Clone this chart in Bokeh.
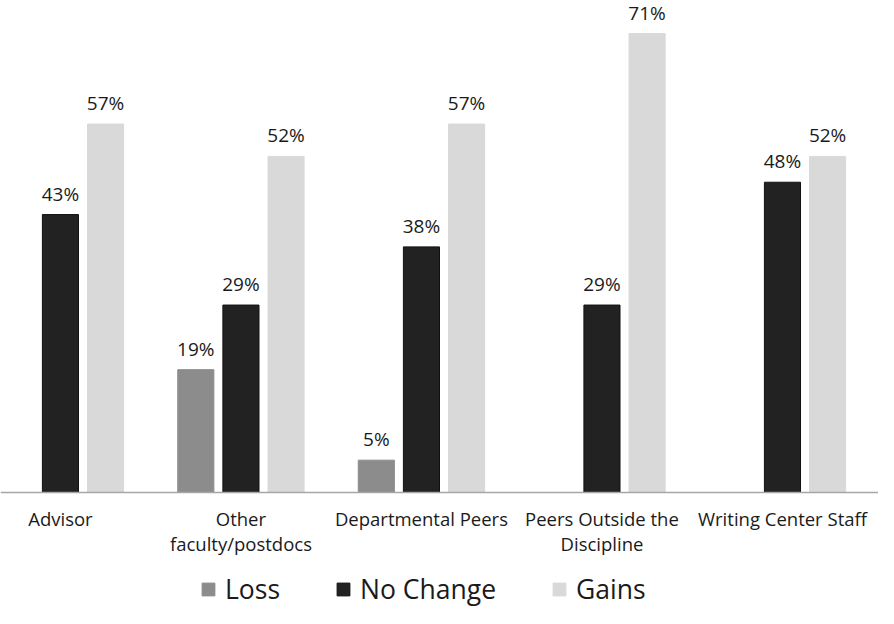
import numpy as np
from bokeh.plotting import figure
from bokeh.models import Range1d, Span, ColumnDataSource
from bokeh.core.properties import value
from bokeh.embed import file_html
from bokeh.resources import INLINE

categories = ["Advisor", "Other\nfaculty/postdocs", "Departmental Peers",
              "Peers Outside the\nDiscipline", "Writing Center Staff"]
loss = [np.nan, 19, 5, np.nan, np.nan]
no_change = [43, 29, 38, 29, 48]
gains = [57, 52, 57, 71, 52]

series = [("Loss", loss, "#8c8c8c", -0.25),
          ("No Change", no_change, "#222222", 0.0),
          ("Gains", gains, "#d9d9d9", 0.25)]

FONT = "Open Sans"

p = figure(width=878, height=608, x_range=Range1d(-0.332, 4.532),
           y_range=Range1d(-17.95, 76.12), output_backend="svg",
           toolbar_location=None, min_border=0)
p.outline_line_color = None
p.axis.visible = False
p.xgrid.grid_line_color = None
p.ygrid.grid_line_color = None
p.background_fill_color = "white"
p.border_fill_color = "white"

idx = np.arange(len(categories))

for name, vals, color, off in series:
    v = np.array(vals, dtype=float)
    src = ColumnDataSource(dict(x=idx + off, top=v))
    p.vbar(x="x", top="top", width=0.2, bottom=0, source=src,
           fill_color=color, line_color="#111111" if name == "No Change" else color,
           line_width=1, legend_label=name)
    mask = ~np.isnan(v)
    lsrc = ColumnDataSource(dict(x=(idx + off)[mask], y=v[mask],
                                 t=[f"{int(a)}%" for a in v[mask]]))
    p.text(x="x", y="y", text="t", source=lsrc, text_align="center",
           text_baseline="bottom", y_offset=-8, text_font=value(FONT),
           text_font_size="19px", text_color="#1a1a1a")

baseline = Span(location=0, dimension="width", line_color="#a6a6a6", line_width=1.5)
p.add_layout(baseline)

csrc = ColumnDataSource(dict(x=idx, y=np.zeros(len(idx)), t=categories))
p.text(x="x", y="y", text="t", source=csrc, text_align="center",
       text_baseline="top", y_offset=14, text_font=value(FONT),
       text_font_size="18.5px", text_line_height=1.0, text_color="#1a1a1a")

lg = p.legend[0]
lg.orientation = "horizontal"
lg.location = (200, 1)
lg.border_line_color = None
lg.background_fill_alpha = 0
lg.label_text_font = FONT
lg.label_text_font_size = "26.5px"
lg.label_text_color = "#1a1a1a"
lg.glyph_width = 16
lg.glyph_height = 16
lg.label_standoff = 9
lg.spacing = 55
lg.padding = 0
lg.margin = 0

open("out.html", "w").write(file_html(p, INLINE))
